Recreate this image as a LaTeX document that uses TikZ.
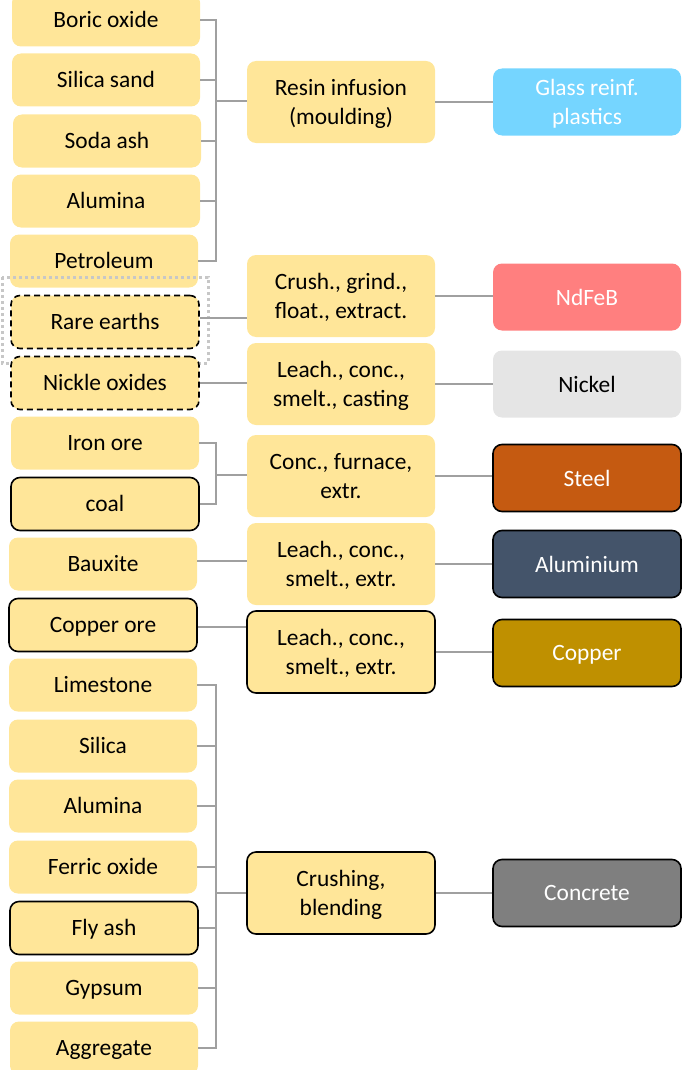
\documentclass[tikz,border=0pt]{standalone}
\usepackage{fontspec}
\setmainfont{Carlito}
\usetikzlibrary{positioning}
\definecolor{sand}{HTML}{FFE699}
\definecolor{glassblue}{HTML}{75D5FF}
\definecolor{magnetred}{HTML}{FF7F7F}
\definecolor{nickelgrey}{HTML}{E5E5E5}
\definecolor{steelbrown}{HTML}{C55A11}
\definecolor{aluslate}{HTML}{44546A}
\definecolor{coppergold}{HTML}{BF9000}
\definecolor{concretegrey}{HTML}{7F7F7F}
\definecolor{linkgrey}{HTML}{A0A0A0}

\begin{document}
\begin{tikzpicture}[x=1pt, y=-1pt,
    base/.style={rectangle, rounded corners=9pt, fill=sand, minimum width=188pt, inner sep=0pt, font=\fontsize{23.4}{28.5}\selectfont},
    feed/.style={base, minimum height=53pt, text height=15.5pt, text depth=0pt},
    proc/.style={base, minimum height=82pt, align=center, text depth=0pt},
    prod/.style={base, minimum height=67pt, align=center, text depth=0pt, text=white},
    edged/.style={draw=black, line width=1.6pt},
    dashedge/.style={draw=black, line width=1.6pt, dash pattern=on 6pt off 4pt},
    conn/.style={draw=linkgrey, line width=1.2pt}]

    \useasboundingbox (0,0) rectangle (685,1070);

    % raw materials
    \node[feed] (boric) at (106,20) {Boric oxide};
    \node[feed] (sand) at (106,80) {Silica sand};
    \node[feed] (soda) at (107,141) {Soda ash};
    \node[feed] (alumina1) at (106,201) {Alumina};
    \node[feed] (petrol) at (104,261) {Petroleum};
    \draw[draw=black!22, line width=3pt, dash pattern=on 3pt off 3pt] (2,277) rectangle (208,363);
    \node[feed, dashedge] (rare) at (105,322) {Rare earths};
    \node[feed, dashedge] (nickox) at (105,383) {Nickle oxides};
    \node[feed] (iron) at (105,443) {Iron ore};
    \node[feed, edged] (coal) at (105,504) {coal};
    \node[feed] (bauxite) at (103,564) {Bauxite};
    \node[feed, edged] (copore) at (103,625) {Copper ore};
    \node[feed] (lime) at (103,685) {Limestone};
    \node[feed] (silica) at (103,746) {Silica};
    \node[feed] (alumina2) at (103,806) {Alumina};
    \node[feed] (ferric) at (103,867) {Ferric oxide};
    \node[feed, edged] (flyash) at (104,928) {Fly ash};
    \node[feed] (gypsum) at (104,988) {Gypsum};
    \node[feed] (aggr) at (104,1048) {Aggregate};

    % processes
    \node[proc] (resin) at (341,102) {Resin infusion\\(moulding)};
    \node[proc] (crush) at (341,296) {Crush., grind.,\\float., extract.};
    \node[proc] (leachni) at (341,384) {Leach., conc.,\\smelt., casting};
    \node[proc] (furnace) at (341,476) {Conc., furnace,\\extr.};
    \node[proc] (leachal) at (341,564) {Leach., conc.,\\smelt., extr.};
    \node[proc, edged] (leachcu) at (341,652) {Leach., conc.,\\smelt., extr.};
    \node[proc, edged] (blend) at (341,893) {Crushing,\\blending};

    % products
    \node[prod, fill=glassblue] (glass) at (587,102) {Glass reinf.\\plastics};
    \node[prod, fill=magnetred] (ndfeb) at (587,297) {NdFeB};
    \node[prod, fill=nickelgrey, text=black] (nickel) at (587,384) {Nickel};
    \node[prod, fill=steelbrown, edged] (steel) at (587,478) {Steel};
    \node[prod, fill=aluslate, edged] (alu) at (587,564) {Aluminium};
    \node[prod, fill=coppergold, edged] (copper) at (587,653) {Copper};
    \node[prod, fill=concretegrey, edged] (concrete) at (587,893) {Concrete};

    % junctions of the brackets
    \coordinate (glassbar) at (216,101);
    \coordinate (steelbar) at (216,475);
    \coordinate (concbar) at (216,893);

    \foreach \src in {boric, sand, soda, alumina1, petrol}
        \draw[conn] (\src.east) -| (glassbar);
    \draw[conn] (glassbar) -- (glassbar -| resin.west);
    \foreach \src in {iron, coal}
        \draw[conn] (\src.east) -| (steelbar);
    \draw[conn] (steelbar) -- (steelbar -| furnace.west);
    \foreach \src in {lime, silica, alumina2, ferric, flyash, gypsum, aggr}
        \draw[conn] (\src.east) -| (concbar);
    \draw[conn] (concbar) -- (concbar -| blend.west);

    \draw[conn] ([yshift=4pt]rare.east) -- ([yshift=4pt]rare.east -| crush.west);
    \draw[conn] (nickox.east) -- (nickox.east -| leachni.west);
    \draw[conn] ([yshift=3pt]bauxite.east) -- ([yshift=3pt]bauxite.east -| leachal.west);
    \draw[conn] ([yshift=-2pt]copore.east) -- ([yshift=-2pt]copore.east -| leachcu.west);

    \draw[conn] (resin.east) -- (resin.east -| glass.west);
    \draw[conn] (crush.east) -- (crush.east -| ndfeb.west);
    \draw[conn] (leachni.east) -- (leachni.east -| nickel.west);
    \draw[conn] (furnace.east) -- (furnace.east -| steel.west);
    \draw[conn] (leachal.east) -- (leachal.east -| alu.west);
    \draw[conn] (leachcu.east) -- (leachcu.east -| copper.west);
    \draw[conn] (blend.east) -- (blend.east -| concrete.west);
\end{tikzpicture}
\end{document}
